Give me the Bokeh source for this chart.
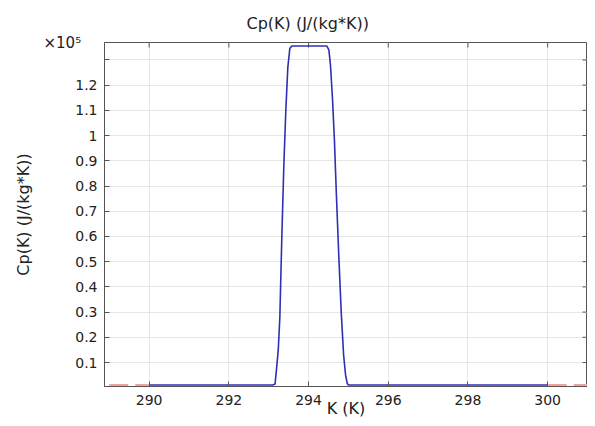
import math
from bokeh.plotting import figure
from bokeh.models import Range1d, FixedTicker, Title
from bokeh.embed import file_html
from bokeh.resources import INLINE

# ---- data (temperature in K, Cp in J/(kg*K)) ----
k_main = [290.0, 293.1, 293.16, 293.2, 293.24, 293.28, 293.33, 293.38, 293.43, 293.48,
          293.53, 293.58, 294.46, 294.51, 294.55, 294.6, 294.65, 294.7, 294.76, 294.82,
          294.88, 294.93, 294.97, 295.0, 300.0]
cp_main = [1100, 1100, 1500, 8000, 15000, 28000, 60000, 88000, 110000, 127000,
           134500, 135500, 135500, 134000, 128000, 115000, 98000, 76000, 52000, 30000,
           13000, 5000, 1800, 1100, 1100]
k_ext_left = [289.0, 290.0]
cp_ext_left = [1100, 1100]
k_ext_right = [300.0, 301.0]
cp_ext_right = [1100, 1100]

x_ticks = [290, 292, 294, 296, 298, 300]
y_ticks = [10000, 20000, 30000, 40000, 50000, 60000, 70000, 80000, 90000,
           100000, 110000, 120000, 130000]
y_tick_labels = ["0.1", "0.2", "0.3", "0.4", "0.5", "0.6", "0.7", "0.8", "0.9",
                 "1", "1.1", "1.2", ""]

X_START, X_END = 288.88, 301.0
Y_START, Y_END = 500, 136900

FONT = "DejaVu Sans"
TXT = "#222222"
AXC = "#555555"

p = figure(frame_width=483, frame_height=344,
           x_range=Range1d(X_START, X_END), y_range=Range1d(Y_START, Y_END),
           output_backend="svg", toolbar_location=None,
           title="Cp(K) (J/(kg*K))",
           min_border_left=104, min_border_right=0, min_border_top=42, min_border_bottom=34)

p.title.align = "left"
p.title.offset = 142
p.title.standoff = 18
p.title.text_font = FONT
p.title.text_font_size = "16px"
p.title.text_font_style = "normal"
p.title.text_color = TXT

# x10^5 multiplier shown as a second (left-shifted) title row next to the frame
mult = Title(text="×10⁵", align="left", offset=-61, standoff=-19,
             text_font=FONT, text_font_size="15px", text_font_style="normal",
             text_color=TXT)
p.add_layout(mult, "above")

p.outline_line_color = AXC
p.outline_line_width = 1
p.background_fill_color = "white"
p.border_fill_color = "white"

# axes
p.xaxis.ticker = FixedTicker(ticks=x_ticks)
p.yaxis.ticker = FixedTicker(ticks=y_ticks)
p.yaxis.major_label_overrides = {t: l for t, l in zip(y_ticks, y_tick_labels)}
for ax in (p.xaxis[0], p.yaxis[0]):
    ax.axis_line_color = AXC
    ax.major_tick_line_color = AXC
    ax.major_tick_in = 5
    ax.major_tick_out = 0
    ax.minor_tick_in = 0
    ax.minor_tick_out = 0
    ax.major_label_text_font = FONT
    ax.major_label_text_font_size = "14px"
    ax.major_label_text_color = TXT
    ax.axis_label_text_font = FONT
    ax.axis_label_text_font_size = "16px"
    ax.axis_label_text_font_style = "normal"
    ax.axis_label_text_color = TXT

p.xaxis.axis_label = "K (K)"
p.xaxis.major_label_standoff = 8
p.xaxis.axis_label_standoff = -9
p.yaxis.axis_label = "Cp(K) (J/(kg*K))"
p.yaxis.major_label_standoff = 7
p.yaxis.axis_label_standoff = 39

p.xgrid.ticker = FixedTicker(ticks=x_ticks)
p.ygrid.ticker = FixedTicker(ticks=y_ticks)
p.grid.grid_line_color = "#e6e6e6"
p.grid.grid_line_width = 1

# mirrored inward ticks on the top and right borders (half clipped by the frame)
p.scatter(x_ticks, [Y_END] * len(x_ticks), marker="dash", size=10, angle=math.pi / 2,
          line_color=AXC, line_width=1)
p.scatter([X_END] * len(y_ticks), y_ticks, marker="dash", size=10,
          line_color=AXC, line_width=1)

# lines
p.line(k_ext_left, cp_ext_left, line_color="#f0a49c", line_width=2, line_dash="19 7")
p.line(k_ext_right, cp_ext_right, line_color="#f0a49c", line_width=2, line_dash="19 7")
p.line(k_main, cp_main, line_color="#2f2fb5", line_width=1.6)

open("out.html", "w").write(file_html(p, INLINE))
